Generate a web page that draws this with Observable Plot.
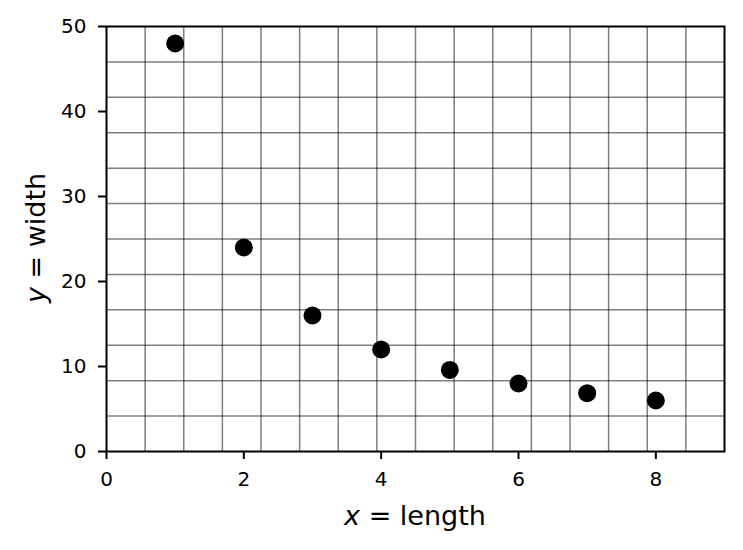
<!DOCTYPE html>
<html>
<head>
<meta charset="utf-8">
<script src="https://cdn.jsdelivr.net/npm/d3@7"></script>
<script src="https://cdn.jsdelivr.net/npm/@observablehq/plot@0.6"></script>
<style>
  html, body { margin: 0; padding: 0; background: #fff; }
  svg { display: block; }
</style>
</head>
<body>
<div id="chart"></div>
<script>
const lengths = [1, 2, 3, 4, 5, 6, 7, 8];
const widths = [48, 24, 16, 12, 9.6, 8, 6.857, 6];
const xTicks = [0, 2, 4, 6, 8];
const yTicks = [0, 10, 20, 30, 40, 50];
const xGridCount = 16;
const yGridCount = 12;
const xMax = 9;
const yMax = 50;

const data = lengths.map((x, i) => ({x, y: widths[i]}));
const xGrid = d3.range(1, xGridCount).map(k => k * xMax / xGridCount);
const yGrid = d3.range(1, yGridCount).map(k => k * yMax / yGridCount);

const plot = Plot.plot({
  width: 743,
  height: 550,
  marginLeft: 106,
  marginRight: 19,
  marginTop: 26,
  marginBottom: 99,
  style: {fontFamily: "DejaVu Sans", fontSize: "20px", color: "#000", background: "#fff", overflow: "visible"},
  x: {domain: [0, xMax], label: null},
  y: {domain: [0, yMax], label: null},
  marks: [
    Plot.ruleX(xGrid, {stroke: "#000", strokeOpacity: 0.5, strokeWidth: 1.5}),
    Plot.ruleY(yGrid, {stroke: "#000", strokeOpacity: 0.5, strokeWidth: 1.5}),
    Plot.frame({stroke: "#000", strokeWidth: 2}),
    Plot.axisX({ticks: xTicks, tickSize: 8, tickPadding: 12, strokeWidth: 2, label: null, fontSize: 20}),
    Plot.axisY({ticks: yTicks, tickSize: 8, tickPadding: 12, strokeWidth: 2, label: null, fontSize: 20}),
    Plot.dot(data, {x: "x", y: "y", r: 9, fill: "#000", stroke: "none"})
  ]
});

const svg = d3.select(plot);
svg.append("text")
  .attr("x", 415).attr("y", 524.5)
  .attr("text-anchor", "middle")
  .style("font-size", "27px").style("font-family", "DejaVu Sans")
  .html('<tspan font-style="italic">x</tspan> = length');
svg.append("text")
  .attr("transform", "translate(44.5,238) rotate(-90)")
  .attr("text-anchor", "middle")
  .style("font-size", "27px").style("font-family", "DejaVu Sans")
  .html('<tspan font-style="italic">y</tspan> = width');

document.getElementById("chart").appendChild(plot);
</script>
</body>
</html>
